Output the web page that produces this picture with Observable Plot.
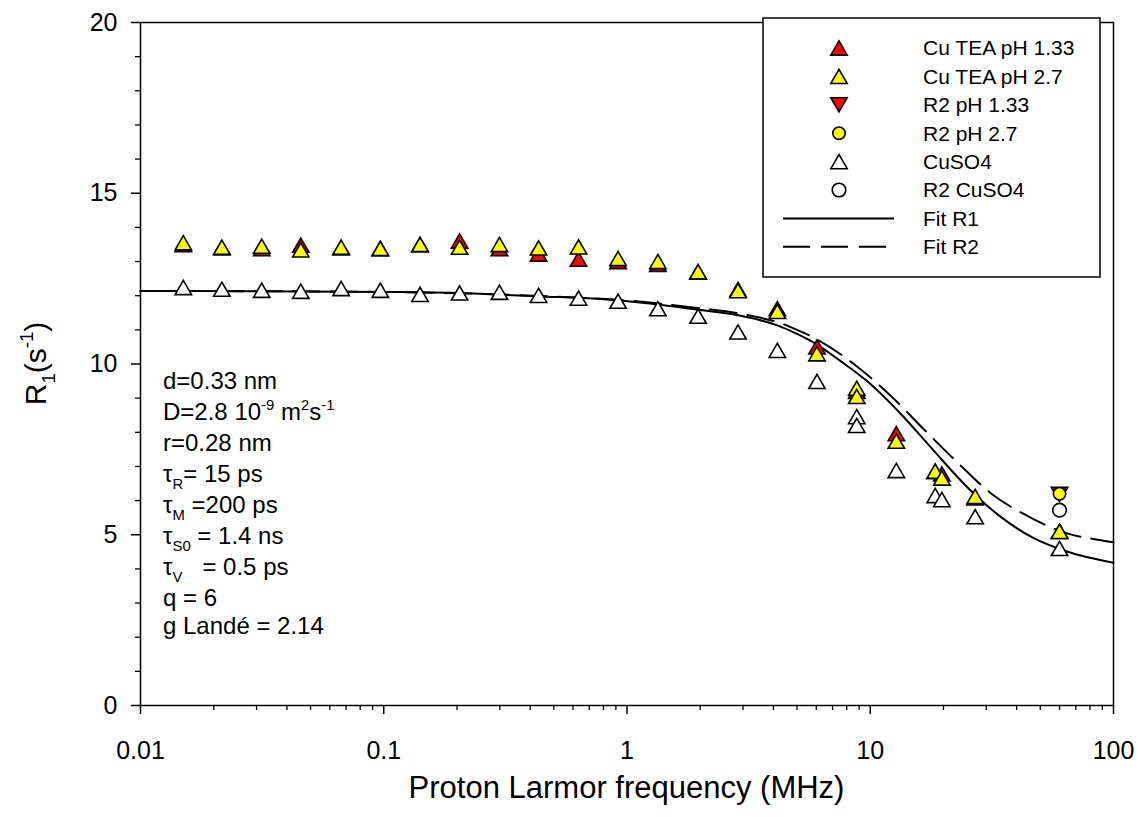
<!DOCTYPE html>
<html><head><meta charset="utf-8">
<script src="https://cdn.jsdelivr.net/npm/d3@7"></script>
<script src="https://cdn.jsdelivr.net/npm/@observablehq/plot@0.6"></script>
<style>
body{margin:0;background:#fff;}
#chart svg{display:block;}
</style></head><body><div id="chart"></div>
<script>
// ---------- data ----------
const teaPH133X = [0.015,0.0216,0.0315,0.0456,0.0668,0.0968,0.141,0.205,0.299,0.433,0.632,0.919,1.34,1.96,2.86,4.15,6.04,8.8,12.8,18.5,19.7,27,60];
const teaPH133Y = [13.5,13.4,13.38,13.48,13.4,13.38,13.5,13.6,13.38,13.22,13.07,13.0,12.92,12.70,12.18,11.62,10.5,9.2,7.96,6.86,6.78,6.08,5.10];

const teaPH27X = [0.015,0.0216,0.0315,0.0456,0.0668,0.0968,0.141,0.205,0.299,0.433,0.632,0.919,1.34,1.96,2.86,4.15,6.04,8.8,8.8,12.8,18.5,19.7,27,60];
const teaPH27Y = [13.55,13.42,13.45,13.34,13.42,13.38,13.5,13.42,13.5,13.4,13.43,13.09,13.0,12.70,12.15,11.54,10.3,9.29,9.05,7.74,6.86,6.66,6.12,5.10];

const r2PH133X = [60];
const r2PH133Y = [6.18];

const r2PH27X = [60];
const r2PH27Y = [6.2];

const cuso4X = [0.015,0.0216,0.0315,0.0456,0.0668,0.0968,0.141,0.205,0.299,0.433,0.632,0.919,1.34,1.96,2.86,4.15,6.04,8.8,8.8,12.8,18.5,19.7,27,60];
const cuso4Y = [12.24,12.19,12.16,12.13,12.21,12.16,12.04,12.08,12.10,12.01,11.93,11.84,11.62,11.40,10.94,10.40,9.49,8.46,8.2,6.88,6.15,6.03,5.53,4.6];

const r2Cuso4X = [60];
const r2Cuso4Y = [5.72];

const fitR1X = [0.01,0.03,0.1,0.2,0.44,0.78,1.13,2.0,2.9,3.5,4.15,5.0,6.04,7.5,9.7,13.3,18.2,25,34.3,47,64.4,100];
const fitR1Y = [12.14,12.13,12.11,12.08,11.98,11.90,11.80,11.58,11.42,11.29,11.13,10.88,10.57,10.1,9.5,8.55,7.47,6.40,5.53,4.90,4.51,4.18];

const fitR2X = [0.01,0.1,0.44,1.0,2.0,2.9,3.5,4.15,5.0,6.04,8.56,12.1,16.6,22.8,31.4,44.8,64.4,88.9,100];
const fitR2Y = [12.14,12.11,11.99,11.86,11.63,11.48,11.36,11.23,11.0,10.72,10.0,9.08,8.09,7.12,6.21,5.53,5.04,4.84,4.78];

const xMajor = [0.01,0.1,1,10,100];
const xTickLabels = ["0.01","0.1","1","10","100"];
const xMinor = [0.02,0.03,0.04,0.05,0.06,0.07,0.08,0.09,0.2,0.3,0.4,0.5,0.6,0.7,0.8,0.9,2,3,4,5,6,7,8,9,20,30,40,50,60,70,80,90];
const yMajor = [0,5,10,15,20];
const yTickLabels = ["0","5","10","15","20"];
const yMinor = [1,2,3,4,6,7,8,9,11,12,13,14,16,17,18,19];

const legendLabels = ["Cu TEA pH 1.33","Cu TEA pH 2.7","R2 pH 1.33","R2 pH 2.7","CuSO4","R2 CuSO4","Fit R1","Fit R2"];
const xTitle = "Proton Larmor frequency (MHz)";
const annotationLines = [
  [["d=0.33 nm",""]],
  [["D=2.8 10",""],["-9","sup"],[" m",""],["2","sup"],["s",""],["-1","sup"]],
  [["r=0.28 nm",""]],
  [["τ",""],["R","sub"],["= 15 ps",""]],
  [["τ",""],["M","sub"],[" =200 ps",""]],
  [["τ",""],["S0","sub"],[" = 1.4 ns",""]],
  [["τ",""],["V","sub"],["   = 0.5 ps",""]],
  [["q = 6",""]],
  [["g Landé = 2.14",""]]
];

// ---------- helpers ----------
const toRows = (xs, ys) => xs.map((x, i) => ({x, y: ys[i]}));
const triUp = {draw(ctx, size){const r = Math.sqrt(size/Math.PI), h = r*0.866; ctx.moveTo(0,-h); ctx.lineTo(r,h); ctx.lineTo(-r,h); ctx.closePath();}};
const triDown = {draw(ctx, size){const r = Math.sqrt(size/Math.PI), h = r*0.866; ctx.moveTo(0,h); ctx.lineTo(r,-h); ctx.lineTo(-r,-h); ctx.closePath();}};
const FONT = "'Liberation Sans', Arial, Helvetica, sans-serif";
const MS = 1.6; // marker stroke
const TR = 8.2; // triangle "radius"
const dash = "27,11";

const plot = Plot.plot({
  width: 1138, height: 817,
  marginLeft: 140, marginRight: 25, marginTop: 22, marginBottom: 112,
  x: {type: "log", domain: [0.01, 100]},
  y: {domain: [0, 20]},
  style: {fontFamily: FONT, background: "white", color: "black"},
  marks: [
    Plot.axisX({ticks: xMinor, tickSize: 5, tickFormat: () => "", label: null, strokeWidth: 1.3}),
    Plot.axisX({ticks: xMajor, tickSize: 9, tickPadding: 27, tickFormat: d => xTickLabels[xMajor.indexOf(d)], fontSize: 25, label: null, strokeWidth: 1.5}),
    Plot.axisY({ticks: yMinor, tickSize: 5, tickFormat: () => "", label: null, strokeWidth: 1.3}),
    Plot.axisY({ticks: yMajor, tickSize: 9, tickPadding: 14, tickFormat: d => yTickLabels[yMajor.indexOf(d)], fontSize: 25, label: null, strokeWidth: 1.5}),
    Plot.line(toRows(fitR1X, fitR1Y), {x: "x", y: "y", curve: "monotone-x", stroke: "black", strokeWidth: 2}),
    Plot.line(toRows(fitR2X, fitR2Y), {x: "x", y: "y", curve: "monotone-x", stroke: "black", strokeWidth: 2, strokeDasharray: dash}),
    Plot.dot(toRows(teaPH133X, teaPH133Y), {x: "x", y: "y", symbol: triUp, r: TR, fill: "#ff0000", stroke: "black", strokeWidth: MS}),
    Plot.dot(toRows(teaPH27X, teaPH27Y), {x: "x", y: "y", symbol: triUp, r: TR, fill: "#ffff00", stroke: "black", strokeWidth: MS}),
    Plot.dot(toRows(r2PH133X, r2PH133Y), {x: "x", y: "y", symbol: triDown, r: TR, fill: "#ff0000", stroke: "black", strokeWidth: MS}),
    Plot.dot(toRows(r2PH27X, r2PH27Y), {x: "x", y: "y", symbol: "circle", r: 6.2, fill: "#ffff00", stroke: "black", strokeWidth: MS}),
    Plot.dot(toRows(cuso4X, cuso4Y), {x: "x", y: "y", symbol: triUp, r: TR, fill: "white", stroke: "black", strokeWidth: MS}),
    Plot.dot(toRows(r2Cuso4X, r2Cuso4Y), {x: "x", y: "y", symbol: "circle", r: 6.8, fill: "white", stroke: "black", strokeWidth: MS}),
    Plot.frame({stroke: "black", strokeWidth: 1.5})
  ]
});
document.getElementById("chart").appendChild(plot);

const svg = d3.select(plot);
const sx = plot.scale("x"), sy = plot.scale("y");

function richText(g, x, y, segs, fs, anchor) {
  const t = g.append("text").attr("x", x).attr("y", y).attr("font-size", fs)
    .attr("font-family", FONT).attr("fill", "black").attr("xml:space", "preserve")
    .style("white-space", "pre").attr("text-anchor", anchor || "start");
  let shift = 0;
  for (const [s, kind] of segs) {
    const target = kind === "sub" ? fs*0.3 : kind === "sup" ? -fs*0.42 : 0;
    t.append("tspan").attr("dy", target - shift).attr("font-size", kind ? fs*0.62 : fs).text(s);
    shift = target;
  }
  return t;
}

// annotation block
const ann = svg.append("g");
const annBase = [389, 420, 451, 482, 513, 544, 575, 606, 634];
annotationLines.forEach((segs, i) => richText(ann, 163, annBase[i], segs, 24));

// axis titles
svg.append("text").attr("x", (sx.range[0]+sx.range[1])/2).attr("y", 798)
  .attr("text-anchor", "middle").attr("font-size", 31).attr("font-family", FONT).attr("fill", "black").text(xTitle);
const yt = svg.append("g").attr("transform", `translate(46,${(sy.range[0]+sy.range[1])/2}) rotate(-90)`);
richText(yt, 0, 0, [["R",""],["1","sub"],["(s",""],["-1","sup"],[")",""]], 30, "middle");

// legend
const lg = svg.append("g");
lg.append("rect").attr("x", 763).attr("y", 18).attr("width", 337).attr("height", 259)
  .attr("fill", "white").attr("stroke", "black").attr("stroke-width", 1.5);
const rowY = i => 48 + i*28.4;
const symX = 839;
const legendMarks = [
  {sym: triUp, fill: "#ff0000", r: TR},
  {sym: triUp, fill: "#ffff00", r: TR},
  {sym: triDown, fill: "#ff0000", r: TR},
  {sym: d3.symbolCircle, fill: "#ffff00", r: 6.2},
  {sym: triUp, fill: "white", r: TR},
  {sym: d3.symbolCircle, fill: "white", r: 6.8}
];
legendMarks.forEach((m, i) => {
  lg.append("path").attr("d", d3.symbol(m.sym, Math.PI*m.r*m.r)())
    .attr("transform", `translate(${symX},${rowY(i)})`)
    .attr("fill", m.fill).attr("stroke", "black").attr("stroke-width", MS);
});
lg.append("line").attr("x1", 783).attr("x2", 894).attr("y1", rowY(6)).attr("y2", rowY(6)).attr("stroke", "black").attr("stroke-width", 2);
lg.append("line").attr("x1", 783).attr("x2", 894).attr("y1", rowY(7)).attr("y2", rowY(7)).attr("stroke", "black").attr("stroke-width", 2).attr("stroke-dasharray", dash);
legendLabels.forEach((s, i) => {
  lg.append("text").attr("x", 923).attr("y", rowY(i)).attr("dy", "0.35em").attr("text-anchor", "start")
    .attr("font-size", 21).attr("font-family", FONT).attr("fill", "black").text(s);
});
</script></body></html>
